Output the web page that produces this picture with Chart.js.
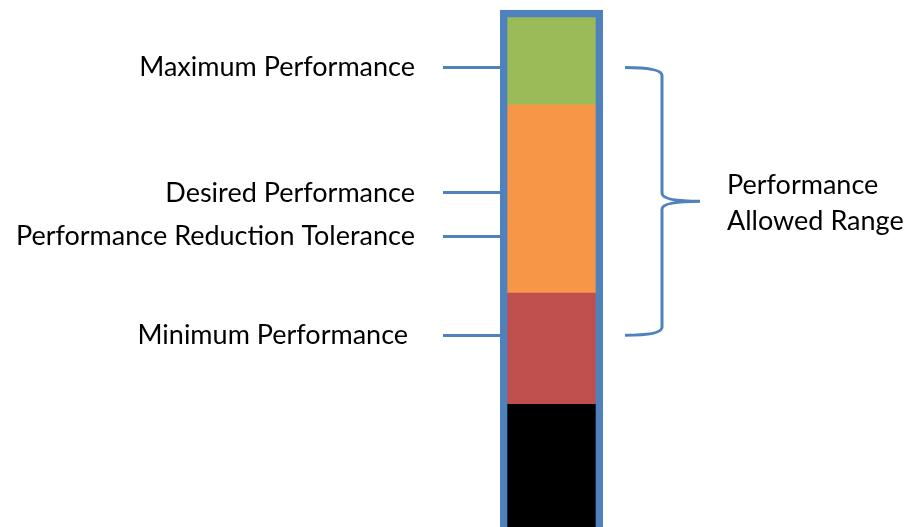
<!DOCTYPE html>
<html>
<head>
<meta charset="utf-8">
<script src="https://cdn.jsdelivr.net/npm/chart.js@4"></script>
<style>
  html, body { margin: 0; padding: 0; background: #ffffff; }
  #wrap { width: 905px; height: 527px; position: relative; }
</style>
</head>
<body>
<div id="wrap"><canvas id="perfChart"></canvas></div>
<script>
// Performance levels marked on the left of the column
const levelLabels = ['Minimum Performance ', 'Performance Reduction Tolerance', 'Desired Performance', 'Maximum Performance'];
const levelValues = [36.4, 55.2, 63.4, 87.2];

// Stacked zones, bottom to top
const zoneNames = ['Below Minimum', 'Minimum Zone', 'Allowed Zone', 'Maximum Zone'];
const zoneSizes = [23.3, 21.1, 35.7, 16.7];
const zoneColors = ['#000000', '#C0504D', '#F79646', '#9BBB59'];

// Outline of the column and the brace label
const frameTop = 98.1;
const rangeLabel = ['Performance', 'Allowed Range'];

const BLUE = '#4F81BD';
const FONT = 'Lato, "Open Sans", sans-serif';

// brace between Maximum and Minimum levels, plus its label
const bracePlugin = {
    id: 'brace',
    afterDraw(chart) {
        const ctx = chart.ctx;
        const y = chart.scales.y;
        const top = y.getPixelForValue(levelValues[3]);
        const bottom = y.getPixelForValue(levelValues[0]);
        const mid = (top + bottom) / 2;
        const x0 = chart.chartArea.right + 22;
        const xs = x0 + 37;
        const tip = x0 + 75;

        ctx.save();
        ctx.strokeStyle = BLUE;
        ctx.lineWidth = 3;
        ctx.beginPath();
        ctx.moveTo(x0, top);
        ctx.quadraticCurveTo(xs, top, xs, top + 8);
        ctx.lineTo(xs, mid - 8);
        ctx.quadraticCurveTo(xs, mid, tip, mid);
        ctx.quadraticCurveTo(xs, mid, xs, mid + 8);
        ctx.lineTo(xs, bottom - 8);
        ctx.quadraticCurveTo(xs, bottom, x0, bottom);
        ctx.stroke();

        ctx.fillStyle = '#000000';
        ctx.font = '27px ' + FONT;
        ctx.textAlign = 'left';
        ctx.textBaseline = 'middle';
        ctx.fillText(rangeLabel[0], tip + 27, mid - 16);
        ctx.fillText(rangeLabel[1], tip + 27, mid + 20);
        ctx.restore();
    }
};

const datasets = [{
    label: 'Frame',
    data: [frameTop],
    stack: 'frame',
    grouped: false,
    barThickness: 103,
    backgroundColor: 'rgba(0,0,0,0)',
    borderColor: BLUE,
    borderWidth: 7,
    borderSkipped: 'bottom'
}].concat(zoneNames.map((name, i) => ({
    label: name,
    data: [zoneSizes[i]],
    stack: 'zones',
    grouped: false,
    barThickness: 89,
    backgroundColor: zoneColors[i],
    borderWidth: 0
})));

new Chart(document.getElementById('perfChart'), {
    type: 'bar',
    data: { labels: [''], datasets: datasets },
    options: {
        responsive: true,
        maintainAspectRatio: false,
        animation: false,
        layout: { padding: { left: 0, right: 302, top: 0, bottom: 0 } },
        plugins: { legend: { display: false }, tooltip: { enabled: false } },
        scales: {
            x: { display: false, stacked: true },
            y: {
                stacked: true,
                min: 0,
                max: 100,
                border: { display: false },
                grid: {
                    drawOnChartArea: false,
                    drawTicks: true,
                    tickLength: 57,
                    color: BLUE,
                    tickColor: BLUE,
                    lineWidth: 3
                },
                ticks: {
                    autoSkip: false,
                    padding: 28,
                    color: '#000000',
                    font: { family: FONT, size: 27 },
                    callback: (value, index) => levelLabels[index]
                },
                afterBuildTicks: (scale) => {
                    scale.ticks = levelValues.map(v => ({ value: v }));
                },
                afterFit: (scale) => {
                    scale.width = 500;
                    scale.paddingTop = 0;
                    scale.paddingBottom = 0;
                }
            }
        }
    },
    plugins: [bracePlugin]
});
</script>
</body>
</html>
